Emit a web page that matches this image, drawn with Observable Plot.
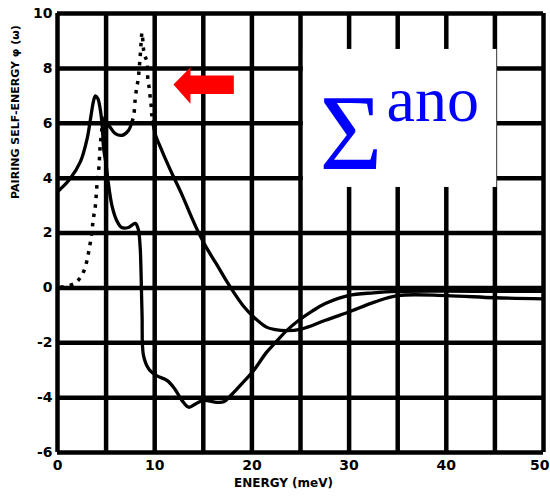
<!DOCTYPE html>
<html><head><meta charset="utf-8">
<script src="https://cdn.jsdelivr.net/npm/d3@7"></script>
<script src="https://cdn.jsdelivr.net/npm/@observablehq/plot@0.6"></script>
<style>body{margin:0;background:#fff}</style>
</head><body><div id="chart"></div>
<script>
// Tick labels and grid positions
const xTicks = [0, 10, 20, 30, 40];
const xTickLast = [50];
const yTicks = [-6, -4, -2, 0, 2, 4, 6, 8, 10];
const xGrid = [0, 5, 10, 15, 20, 25, 30, 35, 40, 45, 50];
const yGrid = [-6, -4, -2, 0, 2, 4, 6, 8, 10];

// Solid curve 1 (deep minimum near 13.5 meV)
const curve1X = [0, 0.3, 1.3, 2.36, 3.05, 3.4, 3.7, 3.9, 4.15, 4.4, 4.6, 4.75, 5.0, 5.2, 5.6, 6.1, 6.6, 7.3, 8.0, 8.3, 8.5, 8.6, 8.7, 8.85, 9.4, 10.2, 11.3, 12.1, 12.8, 13.5, 14.2, 15.0, 16.4, 17.1, 17.8, 19.1, 20.2, 21.5, 22.4, 23.6, 24.8, 26.2, 27.5, 29.9, 32.5, 35, 40, 45, 50];
const curve1Y = [3.5, 3.6, 3.98, 4.6, 5.44, 6.17, 6.8, 7.0, 6.9, 6.5, 5.9, 5.07, 4.5, 3.9, 3.0, 2.45, 2.2, 2.2, 2.35, 2.15, 1.5, 0.5, -1.0, -2.47, -2.96, -3.2, -3.38, -3.7, -4.1, -4.35, -4.23, -4.1, -4.17, -4.15, -3.93, -3.44, -3.0, -2.35, -2.0, -1.55, -1.19, -0.85, -0.58, -0.28, -0.18, -0.13, -0.12, -0.13, -0.13];

// Solid curve 2, first piece (shoulder near 6)
const curve2aX = [4.6, 4.75, 5.27, 5.95, 6.64, 7.3, 7.67];
const curve2aY = [6.2, 6.05, 5.92, 5.62, 5.56, 5.74, 6.05];

// Solid curve 2, second piece (after the spike)
const curve2bX = [9.8, 10.1, 10.5, 11.1, 11.8, 12.8, 13.7, 14.6, 15.4, 16.3, 17.3, 18.2, 19.1, 20.2, 21.5, 22.4, 23.5, 25.1, 27.5, 29.9, 32.6, 35, 40, 45, 50];
const curve2bY = [6.05, 5.55, 5.2, 4.7, 4.15, 3.4, 2.65, 1.95, 1.42, 0.9, 0.3, -0.2, -0.65, -1.07, -1.43, -1.52, -1.56, -1.5, -1.19, -0.89, -0.52, -0.28, -0.28, -0.36, -0.4];

// Dotted pieces
const dotted1X = [0.3, 1.7, 2.3, 2.7, 3.0, 3.2, 3.4, 3.55, 3.7, 3.9, 4.05, 4.25, 4.4, 4.6];
const dotted1Y = [0.02, 0.15, 0.35, 0.6, 0.95, 1.3, 1.7, 2.1, 2.55, 3.0, 3.7, 4.35, 5.2, 5.9];
const dotted2X = [7.67, 7.85, 8.0, 8.15, 8.3, 8.5, 8.7, 8.85, 9.0, 9.2, 9.3, 9.45, 9.55, 9.65, 9.7, 9.8];
const dotted2Y = [6.05, 6.3, 6.9, 7.3, 7.6, 8.4, 9.3, 8.7, 8.45, 8.25, 7.6, 7.25, 6.9, 6.6, 6.3, 6.05];

// Annotation: red arrow outline (data coords) and label box
const arrowX = [11.93, 13.68, 13.68, 18.14, 18.14, 13.68, 13.68, 11.93];
const arrowY = [7.41, 8.04, 7.74, 7.74, 7.07, 7.07, 6.71, 7.41];
const boxX = [25.3, 45.2];
const boxY = [3.66, 8.69];

const pts = (xs, ys) => xs.map((x, i) => ({x, y: ys[i]}));

const chart = Plot.plot({
  width: 550,
  height: 496,
  marginLeft: 57,
  marginRight: 7,
  marginTop: 13,
  marginBottom: 44,
  style: {fontFamily: "'DejaVu Sans', sans-serif", fontWeight: "bold", fontSize: "14px", color: "black", background: "white"},
  x: {domain: [0, 50]},
  y: {domain: [-6, 10]},
  marks: [
    Plot.ruleX(xGrid, {stroke: "black", strokeWidth: 4.5}),
    Plot.ruleY(yGrid, {stroke: "black", strokeWidth: 4.5}),
    Plot.rect([0], {x1: boxX[0], x2: boxX[1], y1: boxY[0], y2: boxY[1], fill: "white"}),
    Plot.line(pts(curve1X, curve1Y), {x: "x", y: "y", curve: "catmull-rom", stroke: "black", strokeWidth: 3.3}),
    Plot.line(pts(curve2aX, curve2aY), {x: "x", y: "y", curve: "catmull-rom", stroke: "black", strokeWidth: 3.3}),
    Plot.line(pts(curve2bX, curve2bY), {x: "x", y: "y", curve: "catmull-rom", stroke: "black", strokeWidth: 3.3}),
    Plot.line(pts(dotted1X, dotted1Y), {x: "x", y: "y", curve: "catmull-rom", stroke: "black", strokeWidth: 3.5, strokeDasharray: "3.5,6", strokeLinecap: "butt"}),
    Plot.line(pts(dotted2X, dotted2Y), {x: "x", y: "y", curve: "catmull-rom", stroke: "black", strokeWidth: 3.5, strokeDasharray: "3.5,6", strokeLinecap: "butt"}),
    Plot.line(pts(arrowX, arrowY), {x: "x", y: "y", fill: "#ff0000", stroke: "none"}),
    Plot.text(["Σ"], {x: 26.95, y: 4.35, text: d => d, textAnchor: "start", lineAnchor: "bottom", fontFamily: "'Liberation Serif', serif", fontWeight: "normal", fontSize: 108, fill: "#0000ff"}),
    Plot.text(["ano"], {x: 33.85, y: 6.1, text: d => d, textAnchor: "start", lineAnchor: "bottom", fontFamily: "'Liberation Serif', serif", fontWeight: "normal", fontSize: 64, fill: "#0000ff"}),
    Plot.axisX(xTicks, {tickSize: 0, tickPadding: 8, tickFormat: d => String(d), label: null, fontSize: 14}),
    Plot.axisX(xTickLast, {tickSize: 0, tickPadding: 8, tickFormat: d => String(d), label: null, fontSize: 14, textAnchor: "end", dx: 6}),
    Plot.axisY(yTicks, {tickSize: 0, tickPadding: 5, tickFormat: d => String(d), label: null, fontSize: 14}),
    Plot.text(["ENERGY (meV)"], {frameAnchor: "bottom", text: d => d, dx: -17, dy: 31, lineAnchor: "middle", fontSize: 12}),
    Plot.text(["PAIRING SELF-ENERGY φ (ω)"], {frameAnchor: "left", text: d => d, dx: -42, dy: -34, rotate: -90, lineAnchor: "middle", fontSize: 11})
  ]
});
document.getElementById("chart").appendChild(chart);
</script>
</body></html>
